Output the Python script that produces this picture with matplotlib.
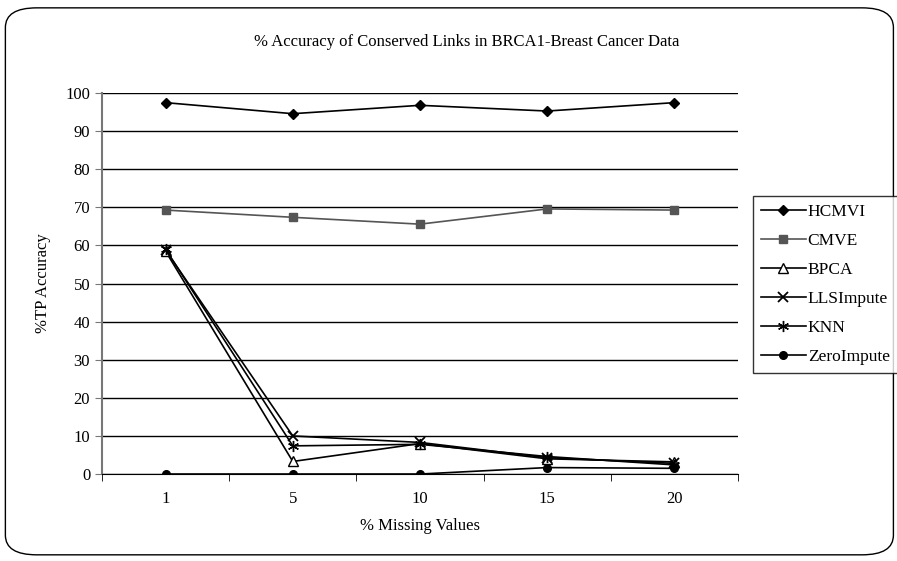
import matplotlib.pyplot as plt
from matplotlib.patches import FancyBboxPatch
import numpy as np

plt.rcParams['font.family'] = ['Liberation Serif', 'DejaVu Serif']

# % missing values (categories on x)
missing = ['1', '5', '10', '15', '20']

hcmvi = [97.5, 94.6, 96.8, 95.3, 97.5]
cmve = [69.3, 67.4, 65.6, 69.6, 69.3]
bpca = [58.5, 3.3, 8.0, 4.0, 3.2]
llsimpute = [58.8, 10.0, 8.3, 4.3, 2.8]
knn = [59.0, 7.4, 7.8, 4.6, 2.4]
zeroimpute = [0.0, 0.0, 0.0, 1.7, 1.5]

fig = plt.figure(figsize=(8.97, 5.61), dpi=100)

# rounded outer frame
frame = FancyBboxPatch((0.006, 0.011), 0.99, 0.975,
                       boxstyle='round,pad=0,rounding_size=0.035',
                       transform=fig.transFigure, fill=False,
                       edgecolor='black', linewidth=1.0)
fig.patches.append(frame)

ax = fig.add_axes([0.1137, 0.155, 0.709, 0.679])
x = np.arange(len(missing))

ax.plot(x, hcmvi, color='black', lw=1.2, marker='D', ms=5,
        mfc='black', mec='black', label='HCMVI')
ax.plot(x, cmve, color='#555555', lw=1.2, marker='s', ms=5.5,
        mfc='#555555', mec='#555555', label='CMVE')
ax.plot(x, bpca, color='black', lw=1.2, marker='^', ms=7,
        mfc='white', mec='black', label='BPCA')
ax.plot(x, llsimpute, color='black', lw=1.2, marker='x', ms=7,
        mew=1.3, label='LLSImpute')
ax.plot(x, knn, color='black', lw=1.2, marker=(6, 2, 0), ms=8,
        mew=1.0, label='KNN')
ax.plot(x, zeroimpute, color='black', lw=1.2, marker='o', ms=5.5,
        mfc='black', mec='black', label='ZeroImpute')

ax.set_xlim(-0.5, len(missing) - 0.5)
ax.set_ylim(0, 100)
ax.set_yticks(np.arange(0, 101, 10))
ax.yaxis.grid(True, color='black', lw=1.0)
ax.set_axisbelow(True)

ax.set_xticks(x)
ax.set_xticklabels(missing)
ax.set_xticks(np.arange(-0.5, len(missing)), minor=True)
ax.tick_params(axis='x', which='major', length=0, pad=12, labelsize=12)
ax.tick_params(axis='x', which='minor', length=5, direction='out', color='black')
ax.tick_params(axis='y', length=5, direction='out', labelsize=12, color='#777777')

for side in ['top', 'right']:
    ax.spines[side].set_visible(False)
ax.spines['left'].set_color('#777777')
ax.spines['left'].set_linewidth(1.5)
ax.spines['bottom'].set_color('black')

ax.set_xlabel('% Missing Values', fontsize=12, labelpad=8)
ax.set_ylabel('%TP Accuracy', fontsize=12, labelpad=10)
fig.text(0.52, 0.925, '% Accuracy of Conserved Links in BRCA1-Breast Cancer Data',
         ha='center', va='center', fontsize=12)

leg = fig.legend(loc='upper left', bbox_to_anchor=(0.8395, 0.651),
                 fontsize=12.5, frameon=True, fancybox=False,
                 edgecolor='black', handlelength=2.6, handletextpad=0.1,
                 labelspacing=0.74, borderpad=0.45, borderaxespad=0)
leg.get_frame().set_linewidth(1.0)

fig.savefig('out.png', dpi=100)
